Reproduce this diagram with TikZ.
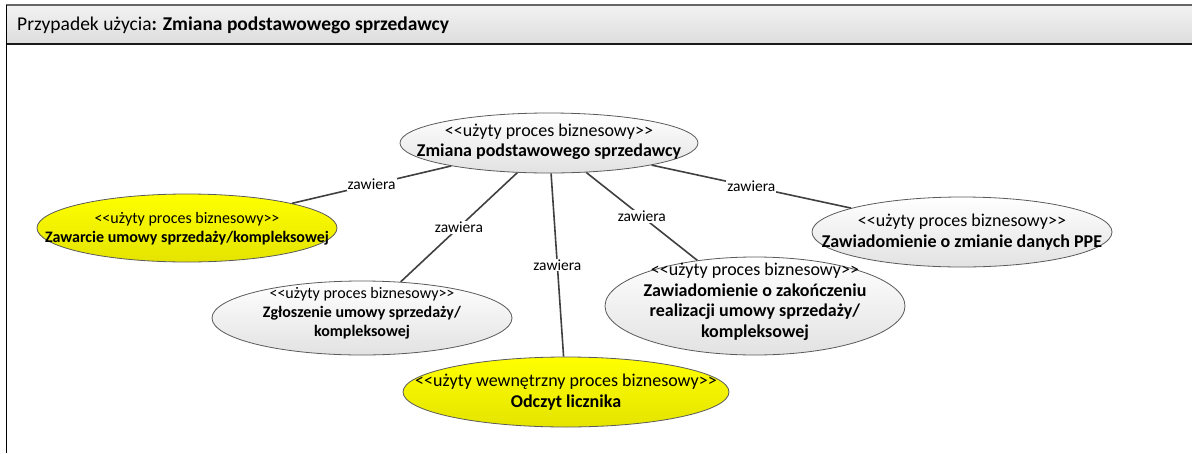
\documentclass[tikz,border=0pt]{standalone}
\usepackage{fontspec}
\setmainfont{Carlito}
\usetikzlibrary{shapes.geometric}
\newcommand{\stl}{<\kern0pt<}
\newcommand{\stg}{>\kern0pt>}
\definecolor{linegray}{HTML}{404040}
\definecolor{ellgray}{HTML}{5A5A5A}
\definecolor{graybot}{HTML}{E2E2E2}
\definecolor{yeltop}{HTML}{FFFF00}
\definecolor{yelbot}{HTML}{E4E400}
\definecolor{headtop}{HTML}{F2F2F2}
\definecolor{headbot}{HTML}{DDDDDD}
\begin{document}
\begin{tikzpicture}[x=1pt,y=-1pt,
  uc/.style={ellipse, draw=ellgray, line width=0.8pt, inner sep=0pt},
  grayuc/.style={uc, top color=white, bottom color=graybot},
  yeluc/.style={uc, top color=yeltop, bottom color=yelbot},
  bigtxt/.style={align=center, inner sep=0pt, font=\fontsize{18}{20.5}\selectfont},
  smalltxt/.style={align=center, inner sep=0pt, font=\fontsize{16}{19}\selectfont},
  conn/.style={draw=linegray, line width=1.6pt},
  lbl/.style={fill=white, inner sep=1pt, font=\fontsize{15.5}{17}\selectfont}
]
\useasboundingbox (0,0) rectangle (1192,453);
% frame header
\shade[top color=headtop, bottom color=headbot] (6,5) rectangle (1192,44);
\draw[line width=1.5pt, draw=black!60] (6,5) -- (1192,5);
\draw[line width=2pt, draw=black!90] (6,44) -- (1192,44);
\draw[line width=1.6pt, draw=black] (6.5,4.5) -- (6.5,453);
\node[anchor=west, inner sep=0pt, font=\fontsize{19.5}{21}\selectfont] (title) at (17,25)
  {Przypadek użycia\textbf{: Zmiana podstawowego sprzedawcy}};

% ellipses
\node[grayuc, minimum width=298pt, minimum height=60pt] (main) at (549,143) {};
\node[yeluc,  minimum width=300pt, minimum height=68pt] (zaw)  at (187,228) {};
\node[grayuc, minimum width=300pt, minimum height=74pt] (zgl)  at (362,318) {};
\node[yeluc,  minimum width=326pt, minimum height=70pt] (odc)  at (566,392) {};
\node[grayuc, minimum width=300pt, minimum height=98pt] (zak)  at (755,306) {};
\node[grayuc, minimum width=300pt, minimum height=70pt] (ppe)  at (962,232) {};

% texts
\node[bigtxt] (mainT) at (549,142) {\stl użyty proces biznesowy\stg\\\textbf{Zmiana podstawowego sprzedawcy}};
\node[smalltxt] (zawT) at (187,229) {\stl użyty proces biznesowy\stg\\\textbf{Zawarcie umowy sprzedaży/kompleksowej}};
\node[smalltxt] (zglT) at (362,313) {\stl użyty proces biznesowy\stg\\\textbf{Zgłoszenie umowy sprzedaży/}\\\textbf{kompleksowej}};
\node[bigtxt] (odcT) at (566,392) {\stl użyty wewnętrzny proces biznesowy\stg\\\textbf{Odczyt licznika}};
\node[bigtxt] (zakT) at (755,302) {\stl użyty proces biznesowy\stg\\\textbf{Zawiadomienie o zakończeniu}\\\textbf{realizacji umowy sprzedaży/}\\\textbf{kompleksowej}};
\node[bigtxt] (ppeT) at (962,232) {\stl użyty proces biznesowy\stg\\\textbf{Zawiadomienie o zmianie danych PPE}};

% connectors
\path[conn] (main) -- node[lbl, pos=0.5] (l1) {zawiera} (zaw);
\path[conn] (main) -- node[lbl, pos=0.5] (l2) {zawiera} (zgl);
\path[conn] (main) -- node[lbl, pos=0.5] (l3) {zawiera} (odc);
\path[conn] (main) -- node[lbl, pos=0.5] (l4) {zawiera} (zak);
\path[conn] (main) -- node[lbl, pos=0.5] (l5) {zawiera} (ppe);
\end{tikzpicture}
\end{document}
